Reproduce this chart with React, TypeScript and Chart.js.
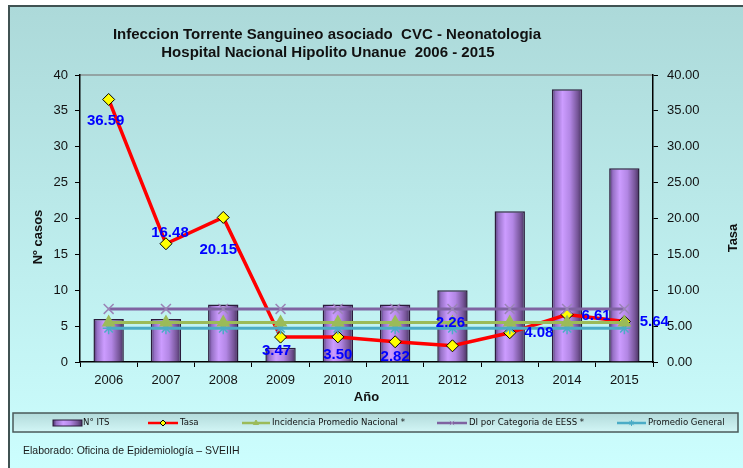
import React, { useEffect, useRef } from "react";
import { Chart, registerables } from "chart.js";
import { drawPoint } from "chart.js/helpers";

Chart.register(...registerables);

const years = ["2006", "2007", "2008", "2009", "2010", "2011", "2012", "2013", "2014", "2015"];
const casosITS = [6, 6, 8, 2, 8, 8, 10, 21, 38, 27];
const tasa = [36.59, 16.48, 20.15, 3.47, 3.5, 2.82, 2.26, 4.08, 6.61, 5.64];
const incidenciaNacional = [5.5, 5.5, 5.5, 5.5, 5.5, 5.5, 5.5, 5.5, 5.5, 5.5];
const diCategoria = [7.4, 7.4, 7.4, 7.4, 7.4, 7.4, 7.4, 7.4, 7.4, 7.4];
const promedioGeneral = [4.7, 4.7, 4.7, 4.7, 4.7, 4.7, 4.7, 4.7, 4.7, 4.7];
const leftTicksMax = 40;
const rightTicksMax = 40;

const titleLines = [
  "Infeccion Torrente Sanguineo asociado  CVC - Neonatologia",
  "Hospital Nacional Hipolito Unanue  2006 - 2015",
];
const footerText = "Elaborado: Oficina de Epidemiología – SVEIIH";

const FONT = "'Liberation Sans', Arial, sans-serif";
const NARROW = "'Liberation Sans Narrow', 'DejaVu Sans Condensed', 'Liberation Sans', sans-serif";

// label offsets (style only) for the Tasa value labels
const labelOffsets: [number, number][] = [
  [-3, 21], [4, -11], [-5, 32], [-4, 14], [0, 18], [0, 15], [-2, -23], [29, 0], [29, 1], [30, 0],
];

function barGradient(c: CanvasRenderingContext2D, x0: number, x1: number) {
  const g = c.createLinearGradient(x0, 0, x1, 0);
  g.addColorStop(0, "#4a2c68");
  g.addColorStop(0.12, "#9570c4");
  g.addColorStop(0.35, "#cc9cff");
  g.addColorStop(0.6, "#b286e4");
  g.addColorStop(0.85, "#765598");
  g.addColorStop(1, "#45305c");
  return g;
}

const decorPlugin = {
  id: "decor",
  beforeDraw(chart: any) {
    const c = chart.ctx as CanvasRenderingContext2D;
    const W = chart.width, H = chart.height;
    c.save();
    const g = c.createLinearGradient(0, 5, 0, H);
    g.addColorStop(0, "#acd9d9");
    g.addColorStop(1, "#ccfefe");
    c.fillStyle = "#ffffff";
    c.fillRect(0, 0, W, H);
    c.fillStyle = g;
    c.fillRect(8, 5, W - 8, H - 5);
    c.strokeStyle = "#405252";
    c.lineWidth = 2;
    c.beginPath();
    c.moveTo(9, H);
    c.lineTo(9, 6);
    c.lineTo(W, 6);
    c.stroke();
    const a = chart.chartArea;
    c.strokeStyle = "#8a9090";
    c.lineWidth = 1.5;
    c.beginPath();
    c.moveTo(a.left, a.top);
    c.lineTo(a.right, a.top);
    c.stroke();
    c.restore();
  },
  afterDraw(chart: any) {
    const c = chart.ctx as CanvasRenderingContext2D;
    const a = chart.chartArea;
    c.save();
    c.fillStyle = "#111";
    c.textAlign = "center";
    c.textBaseline = "middle";
    c.font = `bold 15px ${FONT}`;
    c.fillText(titleLines[0], 327, 35);
    c.fillText(titleLines[1], 328, 53);
    c.font = `bold 13px ${FONT}`;
    c.fillText("Año", (a.left + a.right) / 2, 397);
    c.save();
    c.translate(38, 237);
    c.rotate(-Math.PI / 2);
    c.fillText("Nº casos", 0, 0);
    c.restore();
    c.save();
    c.translate(733, 238);
    c.rotate(-Math.PI / 2);
    c.fillText("Tasa", 0, 0);
    c.restore();

    const lg = c.createLinearGradient(0, 413, 0, 432);
    lg.addColorStop(0, "#b2dada");
    lg.addColorStop(1, "#d2f6f6");
    c.fillStyle = lg;
    c.fillRect(13, 413, 725, 19);
    c.strokeStyle = "#4a5a5a";
    c.lineWidth = 1.5;
    c.strokeRect(13, 413, 725, 19);

    const ly = 423;
    const ds = chart.data.datasets;
    c.font = `9.5px ${NARROW}`;
    c.textAlign = "left";
    c.fillStyle = barGradient(c, 53, 82);
    c.fillRect(53, 420, 29, 6);
    c.strokeStyle = "#2a1a3a";
    c.lineWidth = 1;
    c.strokeRect(53, 420, 29, 6);
    c.fillStyle = "#111";
    c.fillText("N° ITS", 83, ly);

    const lineIcon = (x0: number, x1: number, d: any, label: string, tx: number, r: number, fill: string, stroke: string) => {
      c.strokeStyle = d.borderColor;
      c.lineWidth = 2.5;
      c.beginPath();
      c.moveTo(x0, ly);
      c.lineTo(x1, ly);
      c.stroke();
      c.fillStyle = fill;
      c.strokeStyle = stroke;
      c.lineWidth = 1;
      drawPoint(c, { pointStyle: d.pointStyle, radius: r, borderWidth: 1, rotation: 0 } as any, (x0 + x1) / 2, ly);
      c.fillStyle = "#111";
      c.fillText(label, tx, ly);
    };
    lineIcon(148, 178, ds[1], "Tasa", 180, 3, "#ffff00", "#000");
    lineIcon(242, 270, ds[2], ds[2].label, 272, 3, ds[2].borderColor, ds[2].borderColor);
    lineIcon(437, 467, ds[3], ds[3].label, 469, 3, ds[3].pointBorderColor, ds[3].pointBorderColor);
    lineIcon(617, 646, ds[4], ds[4].label, 648, 3, ds[4].borderColor, ds[4].borderColor);

    c.font = `10.5px ${FONT}`;
    c.fillStyle = "#1a1a1a";
    c.fillText(footerText, 23, 451);
    c.restore();
  },
  afterDatasetsDraw(chart: any) {
    const c = chart.ctx as CanvasRenderingContext2D;
    const meta = chart.getDatasetMeta(1);
    c.save();
    c.font = `bold 15px ${FONT}`;
    c.fillStyle = "#0000ff";
    c.textAlign = "center";
    c.textBaseline = "middle";
    meta.data.forEach((el: any, i: number) => {
      const v = chart.data.datasets[1].data[i] as number;
      const [dx, dy] = labelOffsets[i];
      c.fillText(v.toFixed(2), el.x + dx, el.y + dy);
    });
    c.restore();
  },
};

export default function App() {
  const ref = useRef<HTMLCanvasElement | null>(null);
  useEffect(() => {
    if (!ref.current) return;
    const chart = new Chart(ref.current, {
      type: "bar",
      data: {
        labels: years,
        datasets: [
          {
            type: "bar",
            label: "N° ITS",
            data: casosITS,
            yAxisID: "y",
            order: 3,
            backgroundColor: (ctx: any) => {
              const ch = ctx.chart;
              const xs = ch.scales && ch.scales.x;
              if (!xs || ctx.dataIndex === undefined || !ch.chartArea) return "#b48ce0";
              const cx = xs.getPixelForValue(ctx.dataIndex);
              const w = (xs.width / years.length) * 0.53;
              return barGradient(ch.ctx, cx - w / 2, cx + w / 2);
            },
            borderColor: "#2c1c3c",
            borderWidth: 1.5,
            barPercentage: 0.53,
            categoryPercentage: 1,
          },
          {
            type: "line",
            label: "Tasa",
            data: tasa,
            yAxisID: "y1",
            order: 2,
            borderColor: "#ff0000",
            borderWidth: 3.5,
            pointStyle: "rectRot",
            pointRadius: 6,
            pointBackgroundColor: "#ffff00",
            pointBorderColor: "#000000",
            pointBorderWidth: 1,
            tension: 0,
          },
          {
            type: "line",
            label: "Incidencia Promedio Nacional *",
            data: incidenciaNacional,
            yAxisID: "y1",
            order: 1,
            borderColor: "#9bbb59",
            borderWidth: 3,
            pointStyle: "triangle",
            pointRadius: 5,
            pointBackgroundColor: "#9bbb59",
            pointBorderColor: "#9bbb59",
          },
          {
            type: "line",
            label: "DI por Categoria de EESS *",
            data: diCategoria,
            yAxisID: "y1",
            order: 1,
            borderColor: "#7f63a1",
            borderWidth: 3,
            pointStyle: "crossRot",
            pointRadius: 7,
            pointBorderWidth: 1.5,
            pointBackgroundColor: "#9a84b6",
            pointBorderColor: "#9a84b6",
          },
          {
            type: "line",
            label: "Promedio General",
            data: promedioGeneral,
            yAxisID: "y1",
            order: 1,
            borderColor: "#4bacc6",
            borderWidth: 3,
            pointStyle: "star",
            pointRadius: 6,
            pointBorderWidth: 1.5,
            pointBackgroundColor: "#4bacc6",
            pointBorderColor: "#4bacc6",
          },
        ],
      } as any,
      options: {
        responsive: false,
        animation: false,
        events: [],
        layout: { padding: { top: 75, left: 0, right: 0, bottom: 0 } },
        plugins: {
          legend: { display: false },
          title: { display: false },
          tooltip: { enabled: false },
        },
        scales: {
          x: {
            offset: true,
            grid: { offset: true, drawOnChartArea: false, drawTicks: true, tickLength: 5, color: "#000", lineWidth: 1 },
            border: { color: "#000", width: 1.5 },
            ticks: { font: { family: FONT, size: 13 }, color: "#111", padding: 6, maxRotation: 0 },
            afterFit: (s: any) => { s.height = 106; },
          },
          y: {
            position: "left",
            min: 0,
            max: leftTicksMax,
            ticks: { stepSize: 5, font: { family: FONT, size: 13 }, color: "#111", padding: 7 },
            grid: { drawOnChartArea: false, tickLength: 5, color: "#000" },
            border: { color: "#000", width: 1.5 },
            afterFit: (s: any) => { s.width = 80; },
          },
          y1: {
            position: "right",
            min: 0,
            max: rightTicksMax,
            ticks: {
              stepSize: 5,
              font: { family: FONT, size: 13 },
              color: "#111",
              padding: 9,
              callback: (v: any) => Number(v).toFixed(2),
            },
            grid: { drawOnChartArea: false, tickLength: 5, color: "#000" },
            border: { color: "#000", width: 1.5 },
            afterFit: (s: any) => { s.width = 90; },
          },
        },
      } as any,
      plugins: [decorPlugin],
    });
    return () => chart.destroy();
  }, []);
  return (
    <div style={{ position: "absolute", left: 0, top: 0, width: 743, height: 468 }}>
      <canvas ref={ref} width={743} height={468} style={{ display: "block", width: 743, height: 468 }} />
    </div>
  );
}
